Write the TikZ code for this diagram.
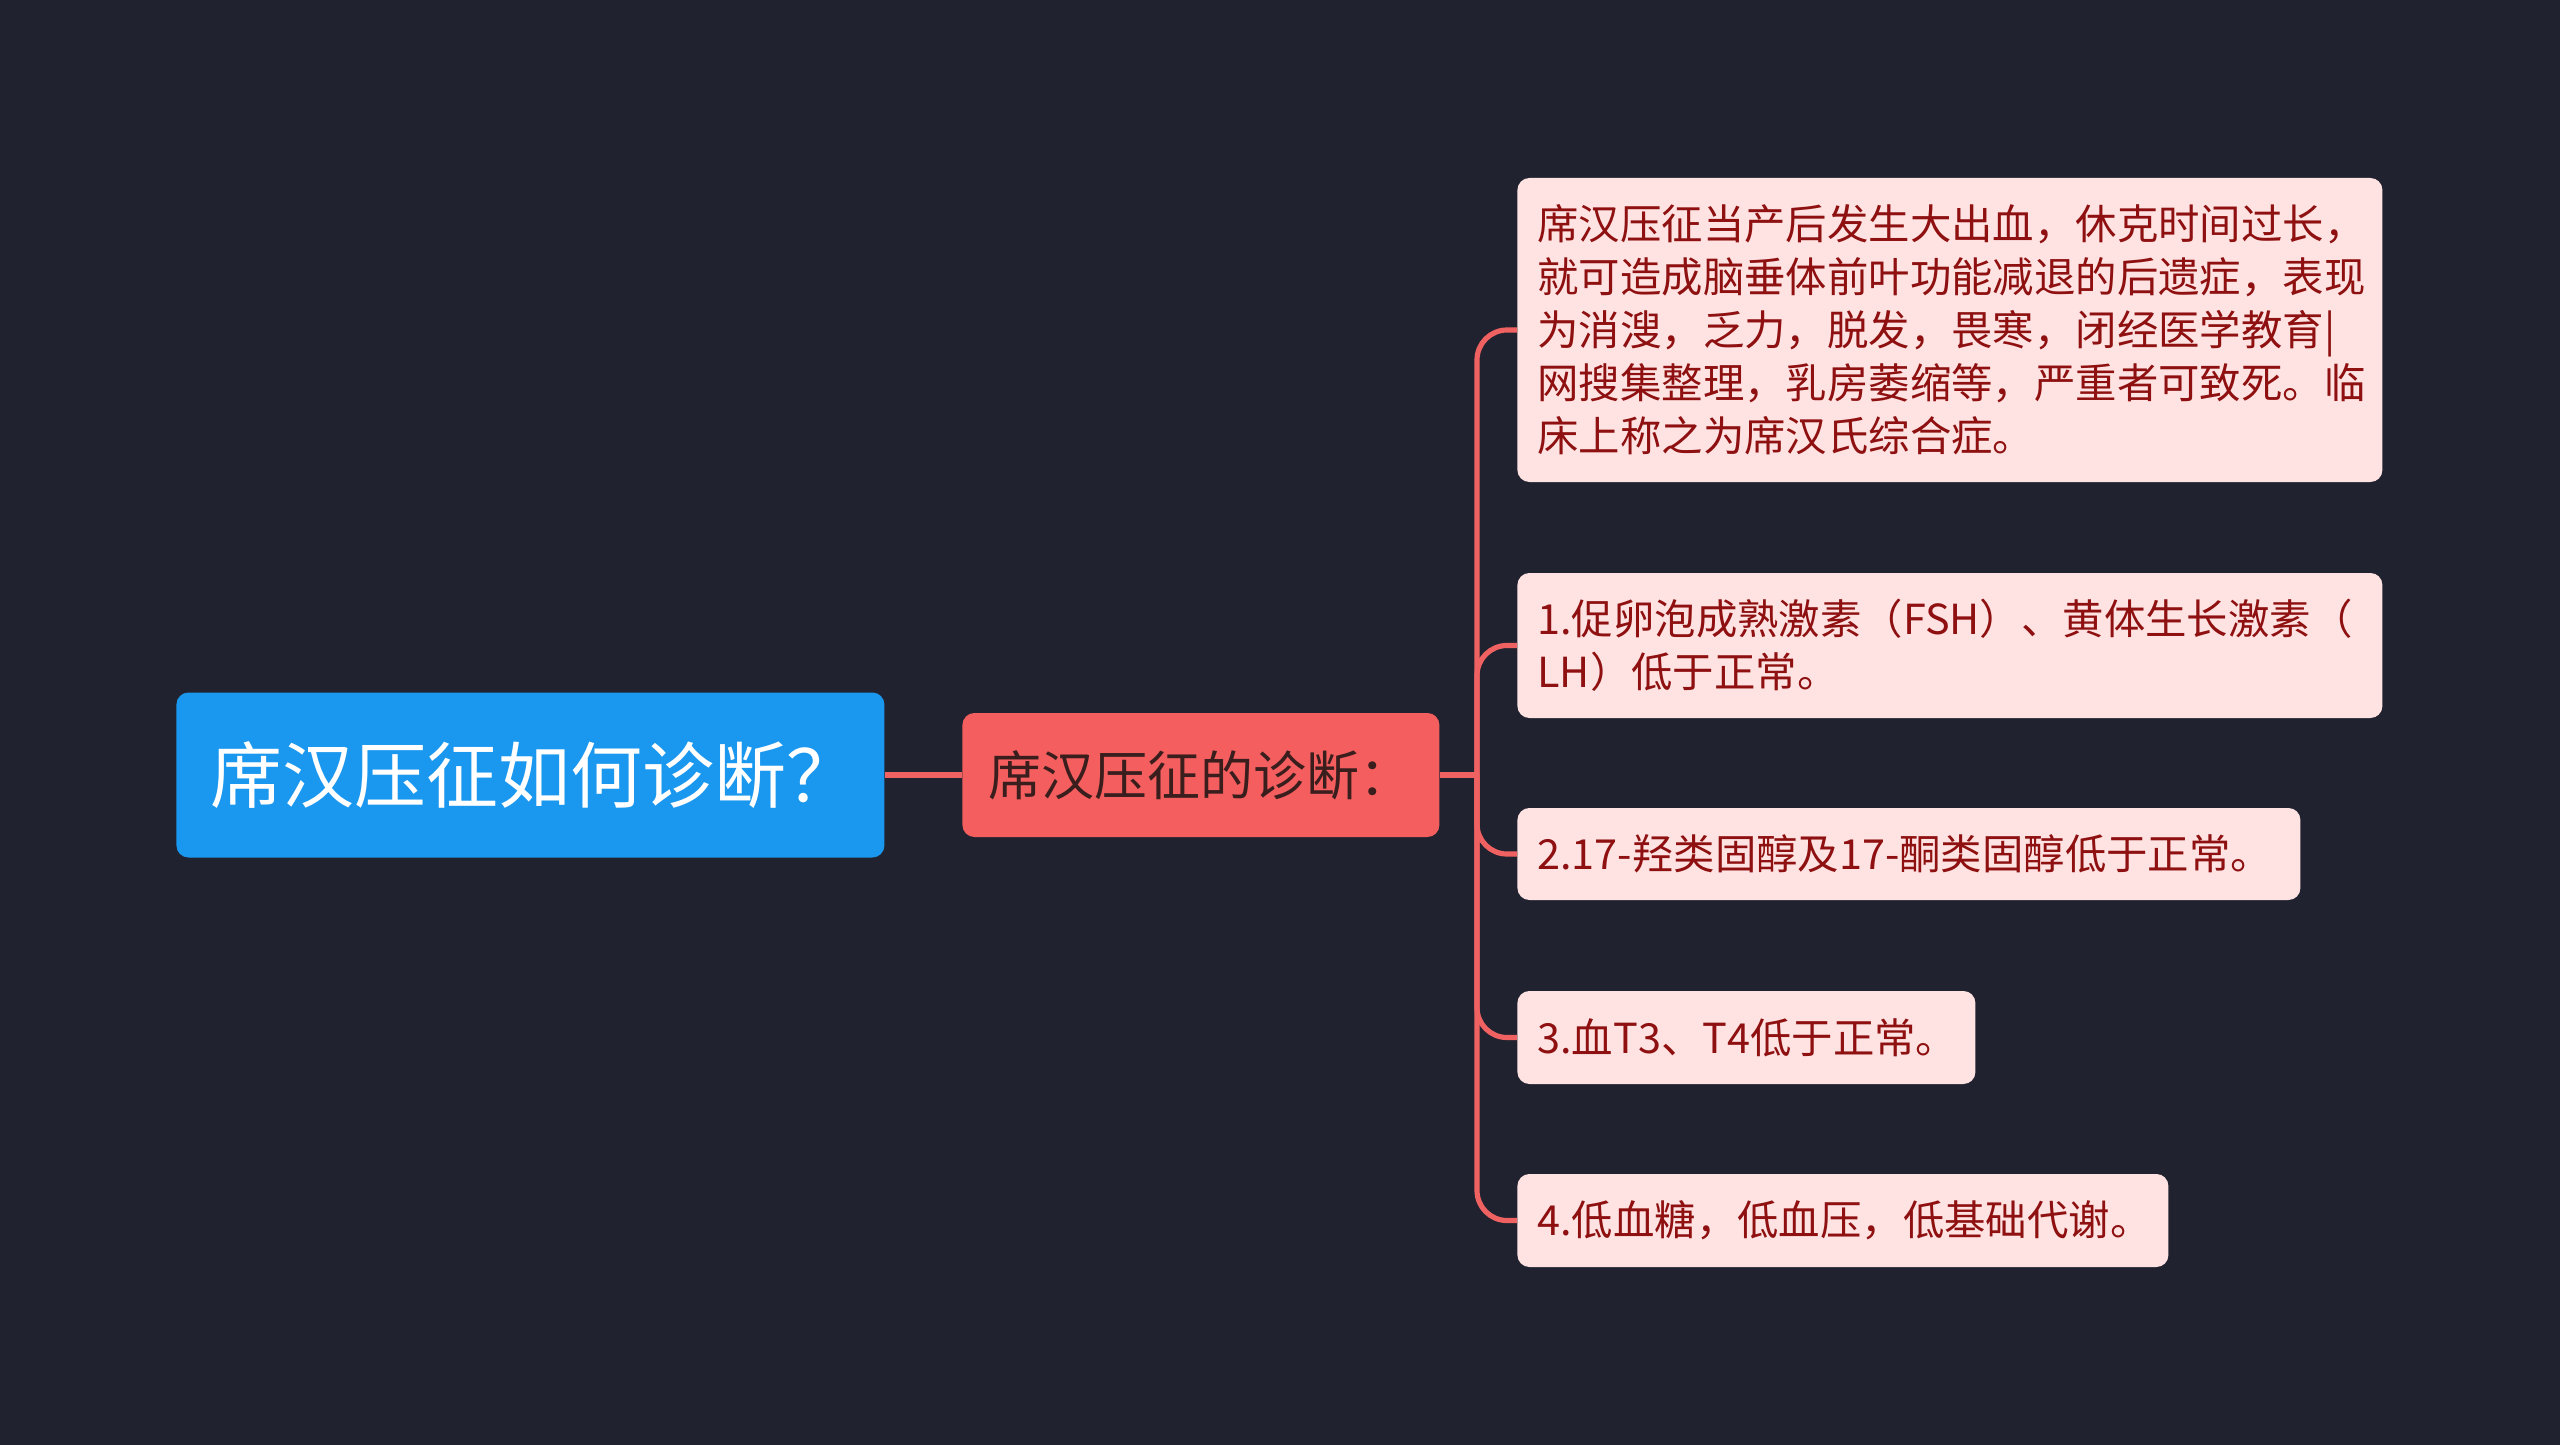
\documentclass[tikz,border=0pt]{standalone}
\usepackage{fontspec}
\newfontfamily\cjk{Noto Sans CJK SC}

\definecolor{bgdark}{HTML}{20232F}
\definecolor{rootblue}{HTML}{1A97EE}
\definecolor{mainred}{HTML}{F45E5E}
\definecolor{linkred}{HTML}{F06262}
\definecolor{leafpink}{HTML}{FFE3E3}
\definecolor{leaftext}{HTML}{8E1010}
\definecolor{maintext}{HTML}{3A1E1E}

\tikzset{
  root/.style={fill=rootblue, rounded corners=6pt, text=white, anchor=west,
    inner xsep=17pt, inner ysep=0pt, align=left,
    font=\cjk\fontsize{36}{43}\selectfont},
  mainnode/.style={fill=mainred, rounded corners=6pt, text=maintext, anchor=west,
    inner xsep=13pt, inner ysep=0pt, align=left,
    font=\cjk\fontsize{26.5}{31}\selectfont},
  leaf/.style={fill=leafpink, rounded corners=6pt, text=leaftext, anchor=west,
    inner xsep=10pt, inner ysep=0pt, align=left,
    font=\cjk\fontsize{20.7}{26.5}\selectfont},
  link/.style={draw=linkred, line width=2.6pt}
}

\begin{document}
\begin{tikzpicture}[x=0.5pt,y=-0.5pt]
  \fill[bgdark] (0,0) rectangle (2560,1445);
  \useasboundingbox (0,0) rectangle (2560,1445);

  % root and main topic
  \node[root, text width=320pt, minimum height=82.5pt] (root) at (176,775)
    {席汉压征如何诊断？};
  \node[mainnode, text width=212.5pt, minimum height=62pt] (main) at (962,775)
    {席汉压征的诊断：};

  % leaves
  \node[leaf, text width=412.5pt, minimum height=152pt] (n1) at (1517,330)
    {席汉压征当产后发生大出血，休克时间过长，\\
     就可造成脑垂体前叶功能减退的后遗症，表现\\
     为消溲，乏力，脱发，畏寒，闭经医学教育|\\
     网搜集整理，乳房萎缩等，严重者可致死。临\\
     床上称之为席汉氏综合症。};
  \node[leaf, text width=412.5pt, minimum height=72.5pt] (n2) at (1517,645.5)
    {1.促卵泡成熟激素（FSH）、黄体生长激素（\\
     LH）低于正常。};
  \node[leaf, text width=371.5pt, minimum height=46pt] (n3) at (1517,854)
    {2.17-羟类固醇及17-酮类固醇低于正常。};
  \node[leaf, text width=209pt, minimum height=46.5pt] (n4) at (1517,1037.5)
    {3.血T3、T4低于正常。};
  \node[leaf, text width=305.5pt, minimum height=46.5pt] (n5) at (1517,1220.5)
    {4.低血糖，低血压，低基础代谢。};

  % connectors
  \coordinate (hub) at (1477,775);
  \draw[link] (root.east) -- (main.west);
  \draw[link] (main.east) -- (hub);
  \foreach \i in {1,...,5}{
    \draw[link, rounded corners=15pt] (hub) |- (n\i.west);
  }
\end{tikzpicture}
\end{document}
